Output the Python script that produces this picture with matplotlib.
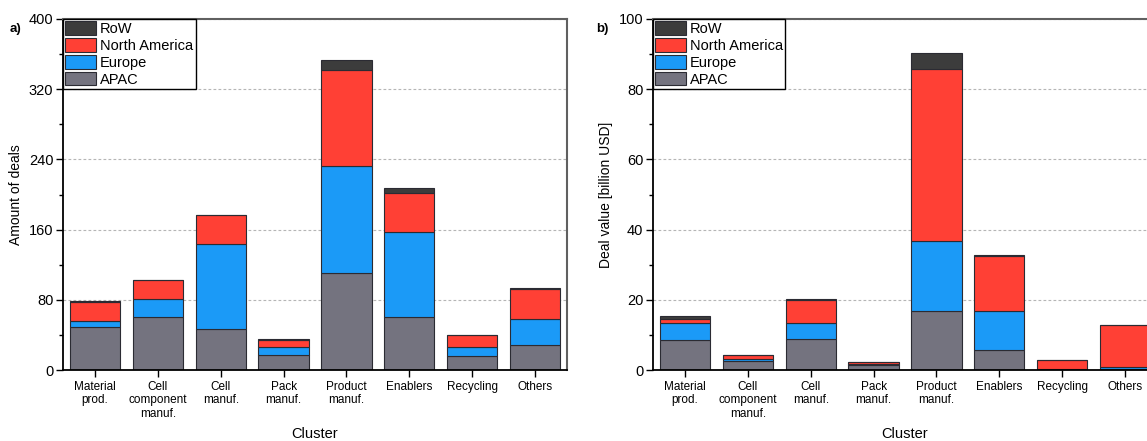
import matplotlib.pyplot as plt
from matplotlib.ticker import MultipleLocator

plt.rcParams['font.family'] = ['Liberation Sans', 'DejaVu Sans']

# Data
clusters = ['Material\nprod.', 'Cell\ncomponent\nmanuf.', 'Cell\nmanuf.', 'Pack\nmanuf.',
            'Product\nmanuf.', 'Enablers', 'Recycling', 'Others']
regions = ['APAC', 'Europe', 'North America', 'RoW']

# a) amount of deals
deals_apac = [49, 60, 47, 17, 110, 60, 16, 29]
deals_europe = [7, 21, 97, 9, 122, 97, 10, 29]
deals_na = [22, 22, 33, 8, 110, 45, 14, 34]
deals_row = [1, 0, 0, 1, 11, 5, 0, 1]

# b) deal value [billion USD]
value_apac = [8.5, 2.7, 8.7, 1.5, 16.7, 5.7, 0.3, 0.2]
value_europe = [4.8, 0.4, 4.7, 0.3, 20.1, 11.0, 0.0, 0.7]
value_na = [1.3, 1.1, 6.5, 0.4, 49.0, 15.8, 2.5, 11.9]
value_row = [0.8, 0.0, 0.2, 0.2, 4.4, 0.3, 0.0, 0.0]

colors = ['#74737f', '#1b9af7', '#ff4035', '#3c3c3c']

fig = plt.figure(figsize=(11.47, 4.41), dpi=100)
ax1 = fig.add_axes([63 / 1147, 71 / 441, 504 / 1147, 351 / 441])
ax2 = fig.add_axes([653 / 1147, 71 / 441, 504 / 1147, 351 / 441])


def stacked(ax, series, ymax, major, ylabel):
    x = range(len(clusters))
    bottom = [0] * len(clusters)
    handles = []
    for vals, col, name in zip(series, colors, regions):
        bars = ax.bar(x, vals, 0.8, bottom=bottom, color=col, edgecolor='#2b2b33',
                      linewidth=0.8, label=name, zorder=2)
        handles.append(bars)
        bottom = [b + v for b, v in zip(bottom, vals)]
    ax.set_xlim(-0.51, 7.51)
    ax.set_ylim(0, ymax)
    ax.yaxis.set_major_locator(MultipleLocator(major))
    ax.yaxis.set_minor_locator(MultipleLocator(major / 2))
    ax.set_xticks(list(x))
    ax.set_xticklabels(clusters, fontsize=8.5, linespacing=1.15)
    ax.tick_params(axis='y', which='major', direction='out', length=5, width=1, labelsize=10.5, pad=2)
    ax.tick_params(axis='y', which='minor', direction='out', length=3, width=1)
    ax.tick_params(axis='x', direction='out', length=5, width=1, pad=3)
    ax.grid(axis='y', color='#b5b5b5', linestyle=(0, (2.5, 2)), linewidth=0.8, zorder=0)
    ax.set_axisbelow(True)
    for side in ['left', 'bottom']:
        ax.spines[side].set_color('black')
        ax.spines[side].set_linewidth(1.3)
    for side in ['top', 'right']:
        ax.spines[side].set_color('#606060')
        ax.spines[side].set_linewidth(1.5)
    ax.set_ylabel(ylabel, fontsize=10, labelpad=4)
    ax.set_xlabel('Cluster', fontsize=10.5, labelpad=5)
    leg = ax.legend(handles[::-1], regions[::-1], loc='upper left', bbox_to_anchor=(0, 1),
                    borderaxespad=0, fancybox=False, edgecolor='black', framealpha=1,
                    fontsize=10.5, handlelength=2.1, handleheight=1.05, labelspacing=0.15,
                    handletextpad=0.3, borderpad=0.15)
    leg.get_frame().set_linewidth(1.0)


stacked(ax1, [deals_apac, deals_europe, deals_na, deals_row], 400, 80, 'Amount of deals')
stacked(ax2, [value_apac, value_europe, value_na, value_row], 100, 20, 'Deal value [billion USD]')

fig.text(10 / 1147, 1 - 29 / 441, 'a)', fontsize=9.5, fontweight='bold', va='center')
fig.text(596 / 1147, 1 - 29 / 441, 'b)', fontsize=9.5, fontweight='bold', va='center')

fig.savefig('out.png', dpi=100)
